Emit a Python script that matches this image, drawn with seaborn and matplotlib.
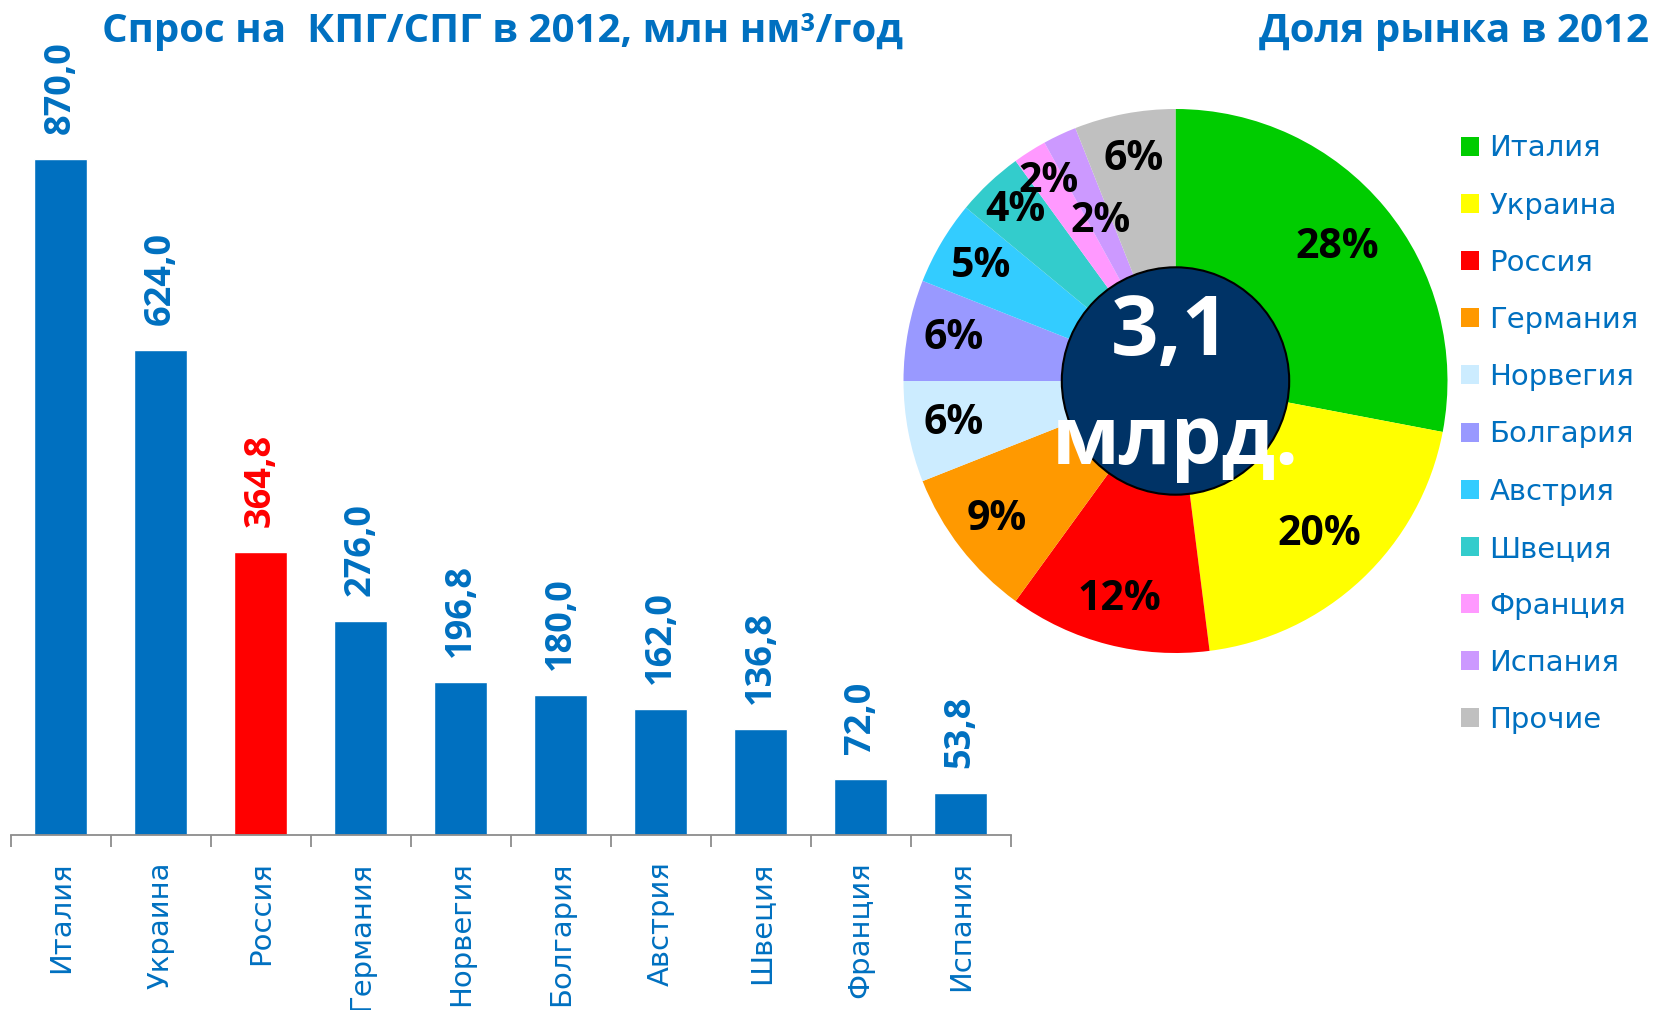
import numpy as np
import pandas as pd
import matplotlib
matplotlib.use("Agg")
import matplotlib.pyplot as plt
import seaborn as sns

# данные
countries = ["Италия", "Украина", "Россия", "Германия", "Норвегия",
             "Болгария", "Австрия", "Швеция", "Франция", "Испания"]
demand = [870.0, 624.0, 364.8, 276.0, 196.8, 180.0, 162.0, 136.8, 72.0, 53.8]

pie_labels = countries + ["Прочие"]
pie_share = [28, 20, 12, 9, 6, 6, 5, 4, 2, 2, 6]
total_text = ["3,1", "млрд."]

title_left = "Спрос на  КПГ/СПГ в 2012, млн нм³/год"
title_right = "Доля рынка в 2012"

# цвета
BLUE = "#0070C0"
RED = "#FF0000"
bar_colors = {c: (RED if c == "Россия" else BLUE) for c in countries}
pie_colors = ["#00CC00", "#FFFF00", "#FF0000", "#FF9900", "#CCECFF", "#9999FF",
              "#33CCFF", "#33CCCC", "#FF99FF", "#CC99FF", "#C0C0C0"]

sns.set_style("white")
plt.rcParams["font.family"] = ["DejaVu Sans"]
BOLD = ["Open Sans", "DejaVu Sans"]

W, H = 1661, 1010
fig = plt.figure(figsize=(W / 100, H / 100), dpi=100)

# ---- столбцы
ax = fig.add_axes([10.7 / W, (H - 835) / H, 1000 / W, 776.7 / H])
df = pd.DataFrame({"country": countries, "demand": demand})
sns.barplot(data=df, x="country", y="demand", hue="country", palette=bar_colors,
            saturation=1, width=0.53, legend=False, ax=ax)
ax.set_xlim(-0.5, len(countries) - 0.5)
ax.set_ylim(0, 1000)
ax.set_xlabel("")
ax.set_ylabel("")
ax.set_yticks([])
for s in ["left", "top", "right"]:
    ax.spines[s].set_visible(False)
ax.spines["bottom"].set_color("#8C8C8C")
ax.spines["bottom"].set_linewidth(1.3)
ax.set_xticks(np.arange(-0.5, len(countries)), minor=True)
ax.tick_params(axis="x", which="minor", bottom=True, length=8.6, width=1.3,
               color="#8C8C8C", direction="out")
ax.tick_params(axis="x", which="major", bottom=True, length=0, pad=19,
               labelsize=21, labelcolor=BLUE)
for lab in ax.get_xticklabels():
    lab.set_rotation(90)
    lab.set_va("top")
    lab.set_ha("center")

for i, v in enumerate(demand):
    ax.annotate(f"{v:.1f}".replace(".", ","), (i, v), xytext=(0, 18),
                textcoords="offset points", rotation=90, ha="center", va="bottom",
                fontsize=26, fontweight="bold", family=BOLD,
                color=bar_colors[countries[i]])

# ---- круговая
R = 272
pax = fig.add_axes([(1175.5 - 300) / W, (H - 381 - 300) / H, 600 / W, 600 / H])
wedges, _, pcts = pax.pie(pie_share, colors=pie_colors, startangle=90, counterclock=False,
                          autopct=lambda p: f"{p:.0f}%", pctdistance=0.83,
                          wedgeprops=dict(linewidth=0),
                          textprops=dict(fontsize=29.5, fontweight="bold", family=BOLD,
                                         color="black"))
dist = {0: 0.77, 1: 0.775, 7: 0.86, 8: 0.87, 9: 0.65}
for k, t in enumerate(pcts):
    if k in dist:
        x, y = t.get_position()
        f = dist[k] / 0.83
        t.set_position((x * f, y * f))
    t.set_zorder(5)
lim = 300 / R
pax.set_xlim(-lim, lim)
pax.set_ylim(-lim, lim)
pax.set_aspect("equal")
pax.axis("off")

pax.add_patch(plt.Circle((0, 0), 0.418, facecolor="#003366", edgecolor="black",
                         linewidth=1.5, zorder=3))
pax.text(-0.02, 0.176, total_text[0], ha="center", va="center", fontsize=60,
         fontweight="bold", family=BOLD, color="white", zorder=6)
pax.text(0.0, -0.305, total_text[1], ha="center", va="baseline", fontsize=58,
         fontweight="bold", family=BOLD, color="white", zorder=6)

fig.legend(wedges, pie_labels, loc="upper left",
           bbox_to_anchor=(1461 / W, 1 - 134.5 / H), frameon=False,
           prop=dict(family="DejaVu Sans", size=21), labelcolor=BLUE,
           handlelength=0.62, handleheight=0.62, handletextpad=0.35,
           labelspacing=1.0, borderpad=0, borderaxespad=0)

# ---- заголовки
fig.text(102 / W, 1 - 41.7 / H, title_left, ha="left", va="baseline", fontsize=29,
         fontweight="bold", family=BOLD, color=BLUE)
fig.text(1649 / W, 1 - 41.7 / H, title_right, ha="right", va="baseline", fontsize=29,
         fontweight="bold", family=BOLD, color=BLUE)

fig.savefig("out.png", dpi=100)
